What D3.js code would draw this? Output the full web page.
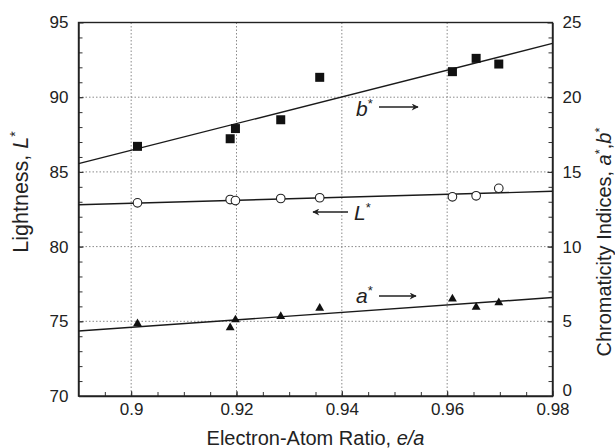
<!DOCTYPE html>
<html>
<head>
<meta charset="utf-8">
<script src="https://cdn.jsdelivr.net/npm/d3@7/dist/d3.min.js"></script>
<style>
  body { margin: 0; background: #fff; }
  svg { display: block; font-family: "Liberation Sans", Arial, Helvetica, sans-serif; }
  .axis path { stroke: #222; stroke-width: 1.4; }
  .axis line { stroke: #333; }
  .axis text { fill: #222; font-size: 17px; }
</style>
</head>
<body>
<div id="chart"></div>
<script>
// electron-atom ratio of each sample
let ea = [0.9012, 0.9188, 0.9198, 0.9284, 0.9358, 0.9610, 0.9655, 0.9698],
    lStar = [82.93, 83.15, 83.08, 83.22, 83.27, 83.33, 83.40, 83.90],   // left axis
    aStar = [4.84, 4.57, 5.10, 5.33, 5.88, 6.50, 5.95, 6.25],           // right axis
    bStar = [16.71, 17.22, 17.90, 18.49, 21.33, 21.71, 22.60, 22.22],   // right axis
    fitX = [0.89, 0.98],
    lFit = [82.8, 83.7],
    aFit = [4.35, 6.59],
    bFit = [15.55, 23.6],
    xTicks = [0.9, 0.92, 0.94, 0.96, 0.98],
    leftTicks = [70, 75, 80, 85, 90, 95],
    rightTicks = [0, 5, 10, 15, 20, 25];

let margin = {t: 22.5, l: 78.5, b: 52, r: 62.5},
    W = 615, H = 448,
    width = W - margin.l - margin.r,
    height = H - margin.t - margin.b;

let svg = d3.select('#chart').append('svg')
    .attr('width', W).attr('height', H);
svg.append('rect').attr('width', W).attr('height', H).attr('fill', '#fff');

let g = svg.append('g').attr('transform', `translate(${margin.l},${margin.t})`);

let x = d3.scaleLinear().domain([0.89, 0.98]).range([0, width]),
    yL = d3.scaleLinear().domain([70, 95]).range([height, 0]),
    yR = d3.scaleLinear().domain([0, 25]).range([height, 0]);

// dotted grid
g.selectAll('.gx').data(xTicks.slice(0, -1)).enter().append('line')
    .attr('x1', d => x(d)).attr('x2', d => x(d))
    .attr('y1', 0).attr('y2', height)
    .attr('stroke', '#8a8a8a').attr('stroke-width', 1).attr('stroke-dasharray', '1.5,2');
g.selectAll('.gy').data(leftTicks.slice(1, -1)).enter().append('line')
    .attr('x1', 0).attr('x2', width)
    .attr('y1', d => yL(d)).attr('y2', d => yL(d))
    .attr('stroke', '#8a8a8a').attr('stroke-width', 1).attr('stroke-dasharray', '1.5,2');

// minor ticks
let minorX = d3.range(0.895, 0.98, 0.005),
    minorY = d3.range(71, 95, 1);
g.append('g').attr('class', 'axis').attr('transform', `translate(0,${height})`)
    .call(d3.axisBottom(x).tickValues(minorX).tickSize(-4).tickFormat(''))
    .call(s => s.select('.domain').remove());
g.append('g').attr('class', 'axis')
    .call(d3.axisLeft(yL).tickValues(minorY).tickSize(-4).tickFormat(''))
    .call(s => s.select('.domain').remove());
g.append('g').attr('class', 'axis').attr('transform', `translate(${width},0)`)
    .call(d3.axisRight(yL).tickValues(minorY).tickSize(-4).tickFormat(''))
    .call(s => s.select('.domain').remove());

// main axes
g.append('g').attr('class', 'axis').attr('transform', `translate(0,${height})`)
    .call(d3.axisBottom(x).tickValues(xTicks).tickSize(-5).tickPadding(7).tickSizeOuter(0)
        .tickFormat(d => String(+d.toFixed(2))));
g.append('g').attr('class', 'axis')
    .call(d3.axisLeft(yL).tickValues(leftTicks).tickSize(-5).tickPadding(10).tickSizeOuter(0));
g.append('g').attr('class', 'axis right').attr('transform', `translate(${width},0)`)
    .call(d3.axisRight(yR).tickValues(rightTicks).tickSize(-5).tickPadding(10).tickSizeOuter(0))
    .call(s => s.selectAll('.tick text').filter(d => d === 0).attr('dy', '-0.02em'));

// frame
g.append('rect').attr('width', width).attr('height', height)
    .attr('fill', 'none').attr('stroke', '#222').attr('stroke-width', 1.4);

// fit lines
let fitLine = (ys, yScale) => d3.line()
    .x((d, i) => x(fitX[i]))
    .y(d => yScale(d))(ys);
[[lFit, yL], [aFit, yR], [bFit, yR]].forEach(([ys, sc]) =>
    g.append('path').attr('d', fitLine(ys, sc))
        .attr('fill', 'none').attr('stroke', '#1a1a1a').attr('stroke-width', 1.4));

// markers
g.selectAll('.sq').data(ea).enter().append('rect')
    .attr('x', (d, i) => x(d) - 4.5).attr('y', (d, i) => yR(bStar[i]) - 4.5)
    .attr('width', 9).attr('height', 9).attr('fill', '#111');
g.selectAll('.ci').data(ea).enter().append('circle')
    .attr('cx', d => x(d)).attr('cy', (d, i) => yL(lStar[i]))
    .attr('r', 4.3).attr('fill', '#fff').attr('stroke', '#222').attr('stroke-width', 1.1);
let tri = d3.symbol().type(d3.symbolTriangle).size(34);
g.selectAll('.tr').data(ea).enter().append('path')
    .attr('d', tri)
    .attr('transform', (d, i) => `translate(${x(d)},${yR(aStar[i])})`)
    .attr('fill', '#111');

// annotations
svg.append('defs').append('marker')
    .attr('id', 'ah').attr('viewBox', '0 0 10 10').attr('refX', 9).attr('refY', 5)
    .attr('markerWidth', 9).attr('markerHeight', 7).attr('markerUnits', 'userSpaceOnUse')
    .attr('orient', 'auto')
    .append('path').attr('d', 'M0,0 L10,5 L0,10 L3,5 Z').attr('fill', '#222');

function starLabel(parent, px, py, letter) {
    let t = parent.append('text').attr('x', px).attr('y', py)
        .attr('font-size', 21).attr('fill', '#222');
    t.append('tspan').attr('font-style', 'italic').text(letter);
    t.append('tspan').attr('font-size', 13).attr('dy', -8).text('*');
    return t;
}
starLabel(svg, 356, 116, 'b');
svg.append('line').attr('x1', 379).attr('x2', 418).attr('y1', 107).attr('y2', 107)
    .attr('stroke', '#222').attr('stroke-width', 1.3).attr('marker-end', 'url(#ah)');
starLabel(svg, 354, 220, 'L');
svg.append('line').attr('x1', 348).attr('x2', 313).attr('y1', 212).attr('y2', 212)
    .attr('stroke', '#222').attr('stroke-width', 1.3).attr('marker-end', 'url(#ah)');
starLabel(svg, 356, 303, 'a');
svg.append('line').attr('x1', 379).attr('x2', 416).attr('y1', 296).attr('y2', 296)
    .attr('stroke', '#222').attr('stroke-width', 1.3).attr('marker-end', 'url(#ah)');

// axis titles
let xt = svg.append('text').attr('x', margin.l + width / 2).attr('y', 445)
    .attr('text-anchor', 'middle').attr('font-size', 20).attr('fill', '#222');
xt.append('tspan').text('Electron-Atom Ratio, ');
xt.append('tspan').attr('font-style', 'italic').text('e/a');

let lt = svg.append('text').attr('text-anchor', 'middle').attr('font-size', 21.5).attr('fill', '#222')
    .attr('transform', 'translate(28,192) rotate(-90)');
lt.append('tspan').text('Lightness, ');
lt.append('tspan').attr('font-style', 'italic').text('L');
lt.append('tspan').attr('font-size', 14).attr('dy', -8).text('*');

let rt = svg.append('text').attr('text-anchor', 'middle').attr('font-size', 20).attr('fill', '#222')
    .attr('transform', 'translate(611,242) rotate(-90)');
rt.append('tspan').text('Chromaticity Indices, ');
rt.append('tspan').attr('font-style', 'italic').text('a');
rt.append('tspan').attr('font-size', 13).attr('dy', -7).text('*');
rt.append('tspan').attr('dy', 7).text(',');
rt.append('tspan').attr('font-style', 'italic').text('b');
rt.append('tspan').attr('font-size', 13).attr('dy', -7).text('*');
</script>
</body>
</html>
